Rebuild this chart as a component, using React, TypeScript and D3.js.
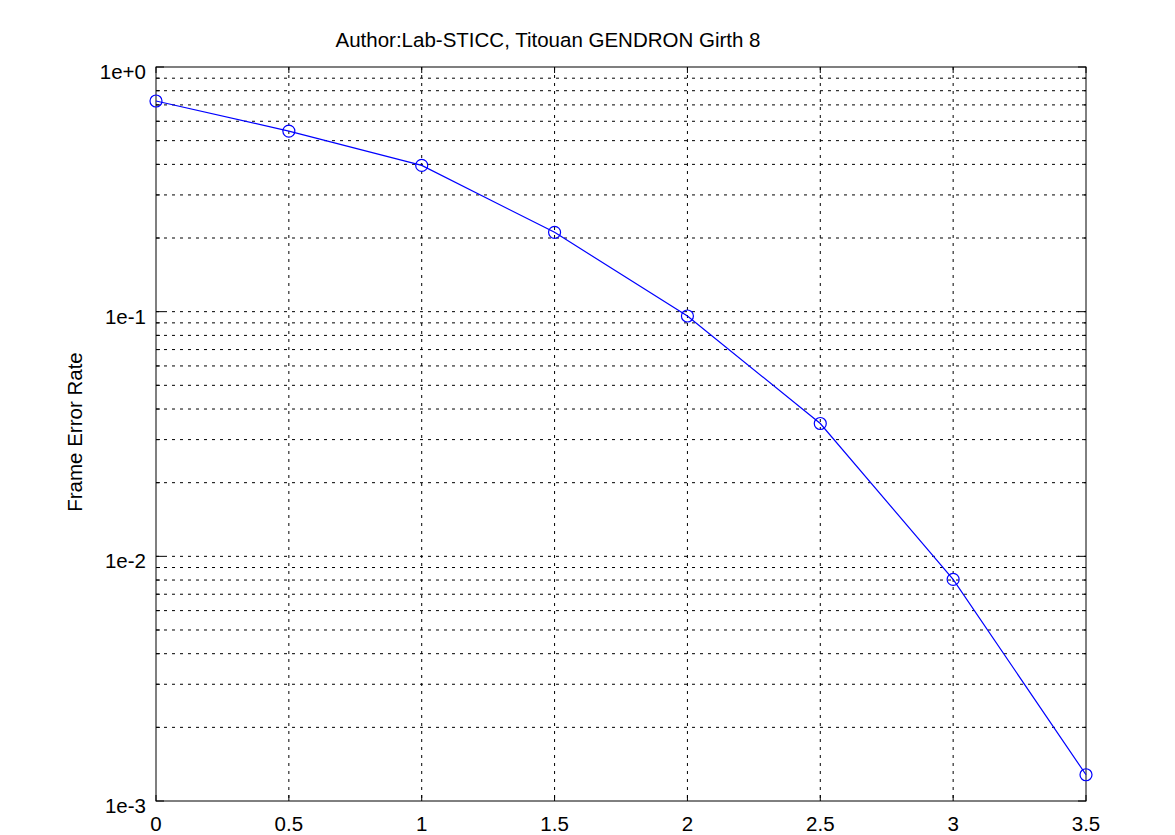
import React from "react";
import * as d3 from "d3";

const snrValues = [0, 0.5, 1, 1.5, 2, 2.5, 3, 3.5];
const ferValues = [0.726, 0.547, 0.396, 0.211, 0.096, 0.0349, 0.00805, 0.00128];
const xTicks = [0, 0.5, 1, 1.5, 2, 2.5, 3, 3.5];
const xTickLabels = ["0", "0.5", "1", "1.5", "2", "2.5", "3", "3.5"];
const yMajorTicks = [1, 0.1, 0.01, 0.001];
const yTickLabels = ["1e+0", "1e-1", "1e-2", "1e-3"];
const titleText = "Author:Lab-STICC, Titouan GENDRON Girth 8";
const yLabelText = "Frame Error Rate";

const W = 1175;
const H = 835;
const left = 156;
const right = 1086;
const top = 67;
const bottom = 801;
const font = "'Liberation Sans', Arial, Helvetica, sans-serif";

export default function App() {
  const x = d3.scaleLinear().domain([0, 3.5]).range([left, right]);
  const y = d3.scaleLog().domain([0.001, 1]).range([bottom, top]);

  const minor: number[] = [];
  for (const dec of [0.001, 0.01, 0.1]) {
    for (let k = 2; k <= 9; k++) minor.push(dec * k);
  }

  const line = d3
    .line<number>()
    .x((_, i) => x(snrValues[i]))
    .y((d) => y(d));

  const dash = "3,5";
  return (
    <div style={{ position: "absolute", left: 0, top: 0 }}>
      <svg width={W} height={H} style={{ display: "block", background: "#fff" }}>
        {/* grid */}
        <g stroke="#000" strokeWidth={1} strokeDasharray={dash} fill="none">
          {xTicks.slice(1, -1).map((t) => (
            <line key={"xg" + t} x1={x(t)} x2={x(t)} y1={top} y2={bottom} />
          ))}
          {[...yMajorTicks.slice(1, -1), ...minor].map((t) => (
            <line key={"yg" + t} x1={left} x2={right} y1={y(t)} y2={y(t)} />
          ))}
        </g>
        {/* ticks */}
        <g stroke="#000" strokeWidth={1}>
          {xTicks.map((t) => (
            <g key={"xt" + t}>
              <line x1={x(t)} x2={x(t)} y1={bottom} y2={bottom - 6} />
              <line x1={x(t)} x2={x(t)} y1={top} y2={top + 6} />
            </g>
          ))}
          {yMajorTicks.map((t) => (
            <g key={"ytm" + t}>
              <line x1={left} x2={left + 8} y1={y(t)} y2={y(t)} />
              <line x1={right} x2={right - 8} y1={y(t)} y2={y(t)} />
            </g>
          ))}
          {minor.map((t) => (
            <g key={"ytn" + t}>
              <line x1={left} x2={left + 4} y1={y(t)} y2={y(t)} />
              <line x1={right} x2={right - 4} y1={y(t)} y2={y(t)} />
            </g>
          ))}
        </g>
        {/* frame */}
        <rect x={left} y={top} width={right - left} height={bottom - top} fill="none" stroke="#000" strokeWidth={1} />
        {/* data */}
        <path d={line(ferValues) || ""} fill="none" stroke="#0000ff" strokeWidth={1.2} />
        {ferValues.map((v, i) => (
          <circle key={"p" + i} cx={x(snrValues[i])} cy={y(v)} r={6} fill="none" stroke="#0000ff" strokeWidth={1.2} />
        ))}
        {/* labels */}
        <g fontFamily={font} fontSize={20.5} fill="#000">
          {xTicks.map((t, i) => (
            <text key={"xl" + t} x={x(t)} y={831} textAnchor="middle">
              {xTickLabels[i]}
            </text>
          ))}
          {yMajorTicks.map((t, i) => (
            <text key={"yl" + t} x={146} y={y(t) + 12} textAnchor="end">
              {yTickLabels[i]}
            </text>
          ))}
          <text x={548} y={47} textAnchor="middle">
            {titleText}
          </text>
          <text transform={`translate(82,432) rotate(-90)`} textAnchor="middle">
            {yLabelText}
          </text>
        </g>
      </svg>
    </div>
  );
}
